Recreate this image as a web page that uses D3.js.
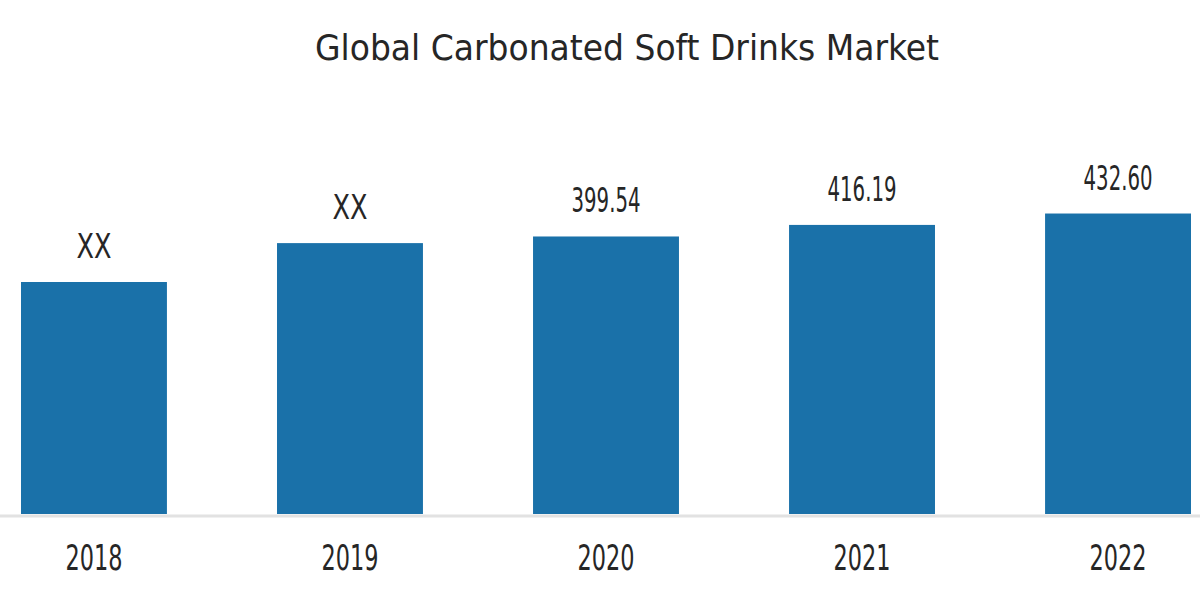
<!DOCTYPE html>
<html>
<head>
<meta charset="utf-8">
<script src="https://cdn.jsdelivr.net/npm/d3@7"></script>
<style>
  html, body { margin: 0; padding: 0; background: #fff; }
  svg { display: block; }
  text { font-family: "Liberation Sans Narrow", "DejaVu Sans Condensed", "Roboto", sans-serif; fill: #262626; }
</style>
</head>
<body>
<svg id="chart" width="1200" height="600"></svg>
<script>
const title = "Global Carbonated Soft Drinks Market";
const years = ["2018", "2019", "2020", "2021", "2022"];
const values = [334, 390, 399.54, 416.19, 432.60];
const valueLabels = ["XX", "XX", "399.54", "416.19", "432.60"];

const svg = d3.select("#chart");
const W = 1200, H = 600;
const baseY = 514;

const x = d3.scaleBand().domain(years).range([21, 1191]).paddingInner(0.43).paddingOuter(0);
const y = d3.scaleLinear().domain([0, 740]).range([baseY, 0]);

svg.append("text")
  .attr("x", 627).attr("y", 60)
  .attr("text-anchor", "middle")
  .attr("font-size", 36)
  .attr("textLength", 624)
  .attr("lengthAdjust", "spacingAndGlyphs")
  .text(title);

svg.append("line")
  .attr("x1", 0).attr("x2", W)
  .attr("y1", baseY + 2).attr("y2", baseY + 2)
  .attr("stroke", "#e2e2e2").attr("stroke-width", 3);

const data = years.map((yr, i) => ({ yr, v: values[i], lab: valueLabels[i] }));

svg.selectAll("rect.bar").data(data).join("rect")
  .attr("class", "bar")
  .attr("x", d => x(d.yr))
  .attr("width", x.bandwidth())
  .attr("y", d => y(d.v))
  .attr("height", d => baseY - y(d.v))
  .attr("fill", "#1a71a9");

svg.selectAll("text.val").data(data).join("text")
  .attr("class", "val")
  .attr("x", d => x(d.yr) + x.bandwidth() / 2)
  .attr("y", d => y(d.v) - 24)
  .attr("text-anchor", "middle")
  .attr("font-size", 34)
  .attr("textLength", d => d.lab.length === 2 ? 35 : 69)
  .attr("lengthAdjust", "spacingAndGlyphs")
  .text(d => d.lab);

const xAxis = d3.axisBottom(x).tickSize(0).tickPadding(0);
const gx = svg.append("g").attr("transform", `translate(0, ${baseY})`).call(xAxis);
gx.select(".domain").remove();
gx.selectAll("text")
  .attr("y", 56)
  .attr("dy", 0)
  .attr("font-size", 36)
  .attr("fill", "#262626")
  .attr("textLength", 57)
  .attr("lengthAdjust", "spacingAndGlyphs")
  .style("font-family", "\"Liberation Sans Narrow\", \"DejaVu Sans Condensed\", sans-serif");
</script>
</body>
</html>
